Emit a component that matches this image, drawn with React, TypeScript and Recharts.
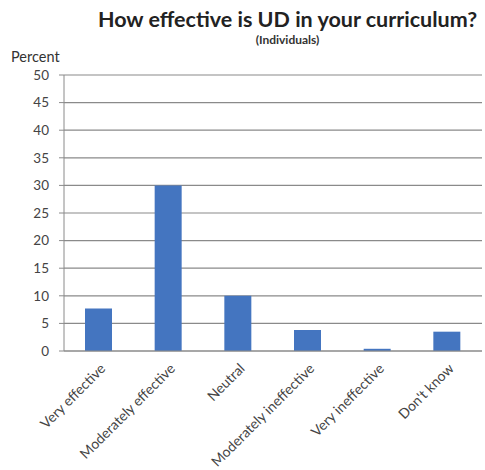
import { Bar, BarChart, CartesianGrid, XAxis, YAxis } from 'recharts';

const categories = [
  'Very effective',
  'Moderately effective',
  'Neutral',
  'Moderately ineffective',
  'Very ineffective',
  "Don't know",
];
const percentValues = [7.7, 30, 10, 3.8, 0.4, 3.5];
const yTicks = [0, 5, 10, 15, 20, 25, 30, 35, 40, 45, 50];

const data = categories.map((name, i) => ({ name, percent: percentValues[i] }));

const FONT = 'Lato, "Open Sans", sans-serif';

function AngledTick({ x, y, payload }: any) {
  return (
    <g transform={`translate(${x + 5},${y + 8})`}>
      <text
        transform="rotate(-45)"
        textAnchor="end"
        dominantBaseline="middle"
        fontSize={14}
        fontFamily={FONT}
        fill="#444"
      >
        {payload.value}
      </text>
    </g>
  );
}

export default function App() {
  return (
    <div style={{ position: 'absolute', left: 0, top: 0, width: 485, height: 470, background: '#fff' }}>
      <div
        style={{
          position: 'absolute',
          left: 90,
          width: 395,
          top: 6,
          textAlign: 'center',
          fontFamily: FONT,
          fontWeight: 'bold',
          fontSize: 21.5,
          color: '#222',
        }}
      >
        How effective is UD in your curriculum?
      </div>
      <div
        style={{
          position: 'absolute',
          left: 90,
          width: 395,
          top: 32,
          textAlign: 'center',
          fontFamily: FONT,
          fontWeight: 'bold',
          fontSize: 12,
          color: '#333',
        }}
      >
        (Individuals)
      </div>
      <div
        style={{
          position: 'absolute',
          left: 11,
          top: 48,
          fontFamily: FONT,
          fontSize: 14.5,
          color: '#333',
        }}
      >
        Percent
      </div>
      <BarChart
        width={485}
        height={470}
        data={data}
        margin={{ top: 75, right: 3, left: 0, bottom: 0 }}
      >
        <CartesianGrid vertical={false} stroke="#8a8a8a" strokeWidth={1.2} />
        <XAxis
          dataKey="name"
          height={119}
          interval={0}
          tick={<AngledTick />}
          tickLine={false}
          axisLine={{ stroke: '#8a8a8a' }}
        />
        <YAxis
          width={64}
          domain={[0, 50]}
          ticks={yTicks}
          interval={0}
          tickSize={5}
          tickMargin={10}
          tick={{ fontSize: 13.5, fill: '#444', fontFamily: FONT }}
          tickLine={{ stroke: '#8a8a8a' }}
          axisLine={{ stroke: '#8a8a8a' }}
        />
        <Bar dataKey="percent" fill="#4475c0" barSize={27} isAnimationActive={false} />
      </BarChart>
    </div>
  );
}
